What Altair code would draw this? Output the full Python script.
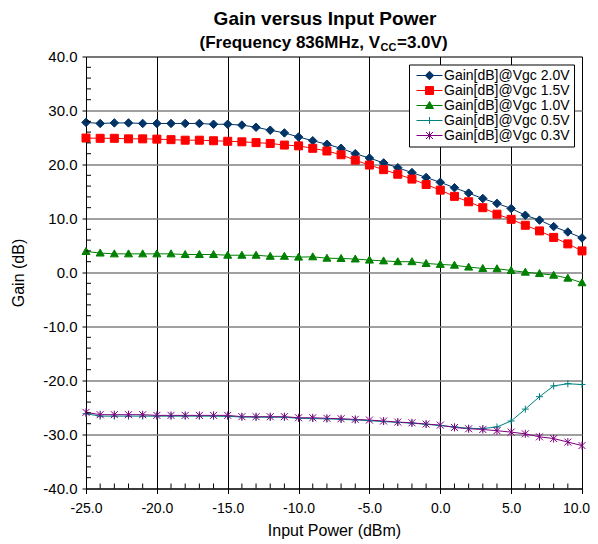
import altair as alt
import pandas as pd

FONT = "Liberation Sans"

input_power = list(range(-25, 11))

series_names = [
    "Gain[dB]@Vgc 2.0V",
    "Gain[dB]@Vgc 1.5V",
    "Gain[dB]@Vgc 1.0V",
    "Gain[dB]@Vgc 0.5V",
    "Gain[dB]@Vgc 0.3V",
]

gain_vgc20 = [27.8, 27.6, 27.7, 27.7, 27.6, 27.6, 27.6, 27.6, 27.6, 27.45, 27.45,
              27.3, 26.9, 26.35, 25.85, 25.1, 24.4, 23.75, 23.0, 22.0, 21.2, 20.3,
              19.4, 18.5, 17.6, 16.7, 15.7, 14.7, 13.7, 12.8, 11.85, 10.6, 9.7, 8.5,
              7.5, 6.4]
gain_vgc15 = [24.9, 24.85, 24.85, 24.75, 24.75, 24.7, 24.6, 24.5, 24.5, 24.4, 24.3,
              24.2, 24.05, 23.9, 23.6, 23.45, 23.0, 22.5, 21.8, 20.8, 19.9, 19.05,
              18.2, 17.3, 16.3, 15.25, 14.1, 13.1, 12.0, 10.8, 9.85, 8.75, 7.7, 6.5,
              5.3, 4.0]
gain_vgc10 = [3.9, 3.6, 3.45, 3.45, 3.45, 3.45, 3.45, 3.33, 3.33, 3.33, 3.2, 3.2,
              3.2, 3.0, 3.0, 2.85, 2.9, 2.65, 2.6, 2.5, 2.3, 2.15, 2.0, 2.0, 1.67,
              1.5, 1.35, 1.0, 0.75, 0.7, 0.37, 0.06, -0.2, -0.5, -1.05, -1.9]
gain_vgc05 = [-26.15, -26.6, -26.6, -26.6, -26.6, -26.6, -26.6, -26.6, -26.6, -26.6,
              -26.65, -26.75, -26.8, -26.8, -26.8, -27.0, -27.05, -27.1, -27.2, -27.3,
              -27.45, -27.6, -27.75, -27.9, -28.1, -28.35, -28.6, -28.85, -28.9, -28.6,
              -27.5, -25.3, -23.0, -21.0, -20.6, -20.75]
gain_vgc03 = [-25.9, -26.33, -26.33, -26.33, -26.33, -26.46, -26.46, -26.46, -26.46,
              -26.46, -26.46, -26.7, -26.7, -26.7, -26.7, -26.9, -26.9, -27.0, -27.08,
              -27.2, -27.33, -27.5, -27.7, -27.83, -28.07, -28.26, -28.7, -28.94,
              -29.07, -29.3, -29.56, -29.88, -30.43, -30.75, -31.4, -32.05]

series_values = [gain_vgc20, gain_vgc15, gain_vgc10, gain_vgc05, gain_vgc03]
series_colors = ["#003366", "#FF0000", "#008000", "#008080", "#800080"]

marker_paths = [
    "M0,-0.85L0.85,0L0,0.85L-0.85,0Z",
    "M-0.8,-0.8L0.8,-0.8L0.8,0.8L-0.8,0.8Z",
    "M0,-0.8L0.8,0.6L-0.8,0.6Z",
    "M-0.7,0L0.7,0M0,-0.7L0,0.7",
    "M-0.7,-0.7L0.7,0.7M-0.7,0.7L0.7,-0.7M0,-0.8L0,0.8",
]
legend_paths = ["M-2.6,0L2.6,0" + p for p in marker_paths]

y_ticks = [-40, -30, -20, -10, 0, 10, 20, 30, 40]
x_ticks = [-25, -20, -15, -10, -5, 0, 5, 10]
y_minor = [v for v in range(-38, 40, 2) if v % 10 != 0]
x_minor = [v for v in range(-24, 10) if v % 5 != 0]

rows = []
for name, vals in zip(series_names, series_values):
    for xv, yv in zip(input_power, vals):
        rows.append({"series": name, "x": xv, "gain": yv})
df = pd.DataFrame(rows)

x_scale = alt.Scale(domain=[-25, 10], nice=False, zero=False)
y_scale = alt.Scale(domain=[-40, 40], nice=False, zero=False)

hyphen_expr = "replace(datum.label, '\u2212', '-')"

x_enc = alt.X(
    "x:Q", scale=x_scale,
    axis=alt.Axis(values=x_ticks, format=".1f", labelExpr=hyphen_expr,
                  title="Input Power (dBm)",
                  grid=True, gridColor="black", gridWidth=1,
                  tickSize=5, tickColor="black", domainColor="black",
                  labelFlush=False, labelOverlap=False,
                  labelOffset={"condition": {"test": "datum.value == 10", "value": -6},
                               "value": 0},
                  labelFont=FONT, labelFontSize=14, labelColor="black",
                  labelPadding=8, titleFont=FONT, titleFontSize=16,
                  titleFontWeight="normal", titleColor="black", titlePadding=7),
)
y_enc = alt.Y(
    "gain:Q", scale=y_scale,
    axis=alt.Axis(values=y_ticks, format=".1f", labelExpr=hyphen_expr,
                  title="Gain (dB)",
                  grid=True,
                  gridColor={"condition": {"test": "abs(datum.value) == 40", "value": "black"},
                             "value": "#808080"},
                  gridWidth={"condition": {"test": "abs(datum.value) == 40", "value": 1},
                             "value": 1.5},
                  tickSize=4, tickColor="black", domainColor="black",
                  labelFlush=False, labelOverlap=False,
                  labelFont=FONT, labelFontSize=15, labelColor="black",
                  labelPadding=5, titleFont=FONT, titleFontSize=16,
                  titleFontWeight="normal", titleColor="black", titlePadding=16),
)

base = alt.Chart(df)

lines = base.mark_line(strokeWidth=1, clip=False).encode(
    x=x_enc, y=y_enc,
    color=alt.Color("series:N", scale=alt.Scale(domain=series_names, range=series_colors),
                    legend=None),
    detail="series:N",
)

points = base.mark_point(filled=True, size=100, strokeWidth=1, opacity=1).encode(
    x="x:Q", y="gain:Q",
    fill=alt.Fill("series:N", scale=alt.Scale(domain=series_names, range=series_colors),
                  legend=None),
    stroke=alt.Stroke("series:N", scale=alt.Scale(domain=series_names, range=series_colors),
                      legend=None),
    shape=alt.Shape("series:N", scale=alt.Scale(domain=series_names, range=marker_paths),
                    legend=None),
)

legend_cfg = alt.Legend(
    orient="none", legendX=323, legendY=8, title=None,
    labelFont=FONT, labelFontSize=14, labelColor="black",
    symbolSize=100, symbolStrokeWidth=1, symbolOffset=9.5, labelOffset=7.5,
    padding=4, rowPadding=1, strokeColor="black", fillColor="white",
    cornerRadius=0, symbolOpacity=1,
)

legend_layer = base.transform_filter("false").mark_point(
    filled=True, size=100, strokeWidth=1, opacity=1
).encode(
    x="x:Q", y="gain:Q",
    fill=alt.Fill("series:N", scale=alt.Scale(domain=series_names, range=series_colors),
                  legend=legend_cfg),
    stroke=alt.Stroke("series:N", scale=alt.Scale(domain=series_names, range=series_colors),
                      legend=legend_cfg),
    shape=alt.Shape("series:N", scale=alt.Scale(domain=series_names, range=legend_paths),
                    legend=legend_cfg),
)

y_minor_rules = alt.Chart(pd.DataFrame({"v": y_minor})).mark_rule(
    color="black", strokeWidth=1
).encode(y=alt.Y("v:Q"), x=alt.value(0), x2=alt.value(5))

x_minor_rules = alt.Chart(pd.DataFrame({"v": x_minor})).mark_rule(
    color="black", strokeWidth=1
).encode(x=alt.X("v:Q"), y=alt.value(432), y2=alt.value(427))

title_df = pd.DataFrame({"t": ["Gain versus Input Power"]})
title_mark = alt.Chart(title_df).mark_text(
    font=FONT, fontSize=19, fontWeight="bold", color="black", align="center",
    baseline="alphabetic"
).encode(text="t:N", x=alt.value(239), y=alt.value(-32))

sub1 = alt.Chart(pd.DataFrame({"t": ["(Frequency 836MHz, V"]})).mark_text(
    font=FONT, fontSize=17, fontWeight="bold", color="black", align="right",
    baseline="alphabetic"
).encode(text="t:N", x=alt.value(294), y=alt.value(-9))
sub2 = alt.Chart(pd.DataFrame({"t": ["CC"]})).mark_text(
    font=FONT, fontSize=11, fontWeight="bold", color="black", align="left",
    baseline="alphabetic"
).encode(text="t:N", x=alt.value(294.5), y=alt.value(-6))
sub3 = alt.Chart(pd.DataFrame({"t": ["=3.0V)"]})).mark_text(
    font=FONT, fontSize=17, fontWeight="bold", color="black", align="left",
    baseline="alphabetic"
).encode(text="t:N", x=alt.value(311), y=alt.value(-9))

chart = alt.layer(
    lines, points, legend_layer, y_minor_rules, x_minor_rules,
    title_mark, sub1, sub2, sub3,
).resolve_scale(
    fill="independent", stroke="independent", shape="independent"
).properties(
    width=496, height=432,
    autosize=alt.AutoSizeParams(type="none"),
    padding={"left": 78, "top": 48.5, "right": 8, "bottom": 53},
).configure_view(
    stroke="black", strokeWidth=1
).configure(background="white")

chart.save("out.html", embed_options={"renderer": "svg", "actions": False})
